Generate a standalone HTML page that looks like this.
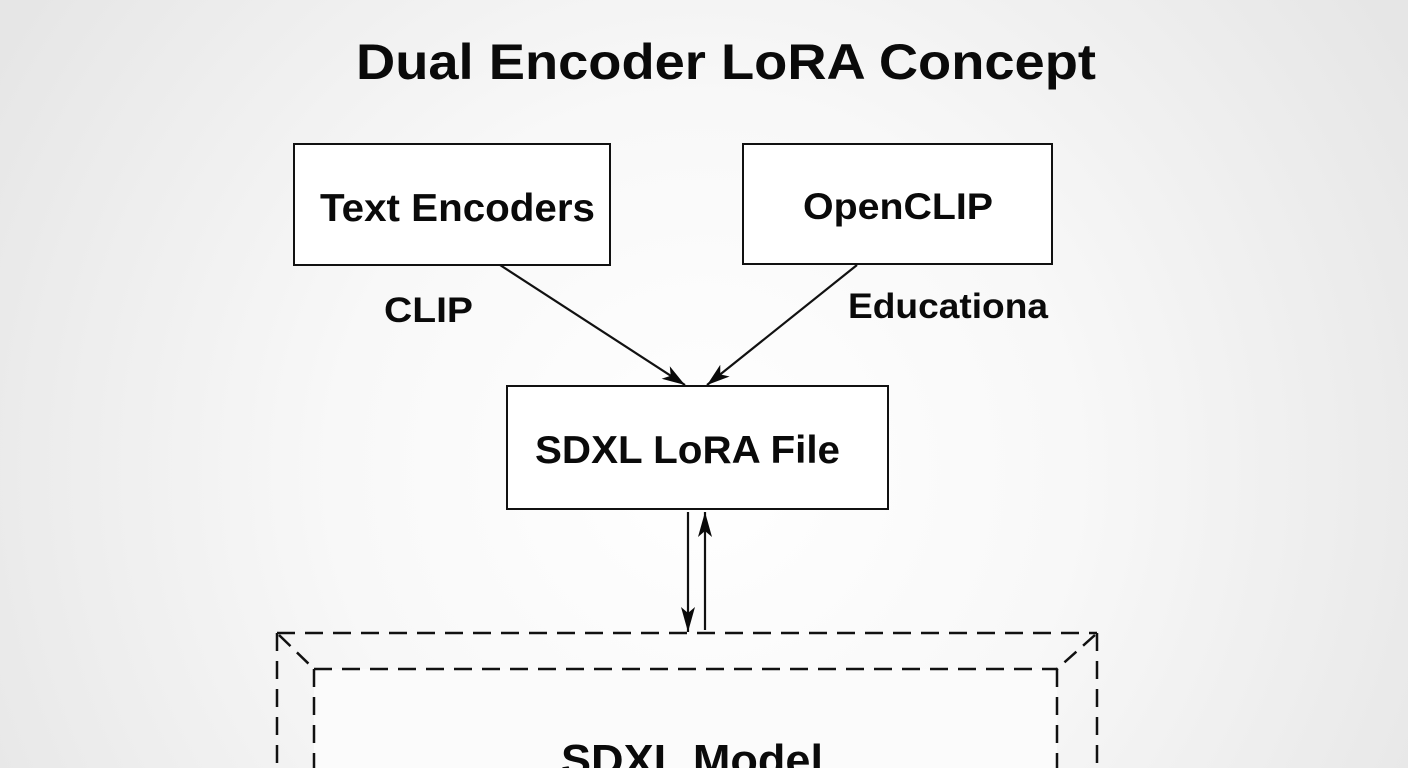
<!DOCTYPE html>
<html>
<head>
<meta charset="utf-8">
<style>
  html, body { margin: 0; padding: 0; }
  body { width: 1408px; height: 768px; overflow: hidden; background: #f3f3f3; }
  svg { display: block; }
  text { font-family: "Liberation Sans", Arial, sans-serif; font-weight: bold; fill: #0a0a0a; }
</style>
</head>
<body>
<svg width="1408" height="768" viewBox="0 0 1408 768" xmlns="http://www.w3.org/2000/svg">
  <defs>
    <radialGradient id="bg" cx="704" cy="470" r="820" gradientUnits="userSpaceOnUse">
      <stop offset="0" stop-color="#ffffff"/>
      <stop offset="0.45" stop-color="#f8f8f8"/>
      <stop offset="1" stop-color="#e6e6e6"/>
    </radialGradient>
    <marker id="ah" markerWidth="26" markerHeight="18" refX="23" refY="8" orient="auto" markerUnits="userSpaceOnUse">
      <path d="M23,8 L0,0.5 L6,8 L0,15.5 Z" fill="#0a0a0a"/>
    </marker>
    <marker id="ahv" markerWidth="28" markerHeight="18" refX="25" refY="8" orient="auto" markerUnits="userSpaceOnUse">
      <path d="M25,8 L0,1 L6,8 L0,15 Z" fill="#0a0a0a"/>
    </marker>
  </defs>

  <rect x="0" y="0" width="1408" height="768" fill="url(#bg)"/>

  <!-- Title -->
  <text x="356" y="79" font-size="50" textLength="740" lengthAdjust="spacingAndGlyphs">Dual Encoder LoRA Concept</text>

  <!-- Top boxes -->
  <rect x="294" y="144" width="316" height="121" fill="#ffffff" stroke="#111" stroke-width="2"/>
  <text x="320" y="221" font-size="38.5" textLength="275" lengthAdjust="spacingAndGlyphs">Text Encoders</text>

  <rect x="743" y="144" width="309" height="120" fill="#ffffff" stroke="#111" stroke-width="2"/>
  <text x="803" y="219" font-size="37" textLength="190" lengthAdjust="spacingAndGlyphs">OpenCLIP</text>

  <!-- Labels -->
  <text x="384" y="322" font-size="35" textLength="89" lengthAdjust="spacingAndGlyphs">CLIP</text>
  <text x="848" y="318" font-size="35" textLength="200" lengthAdjust="spacingAndGlyphs">Educationa</text>

  <!-- Diagonal arrows -->
  <line x1="500" y1="265" x2="685" y2="385" stroke="#111" stroke-width="2.2" marker-end="url(#ah)"/>
  <line x1="857" y1="265" x2="707" y2="385" stroke="#111" stroke-width="2.2" marker-end="url(#ah)"/>

  <!-- LoRA box -->
  <rect x="507" y="386" width="381" height="123" fill="#ffffff" stroke="#111" stroke-width="2"/>
  <text x="535" y="463" font-size="38.5" textLength="305" lengthAdjust="spacingAndGlyphs">SDXL LoRA File</text>

  <!-- Vertical arrows -->
  <line x1="688" y1="512" x2="688" y2="632" stroke="#111" stroke-width="2.2" marker-end="url(#ahv)"/>
  <line x1="705" y1="630" x2="705" y2="512" stroke="#111" stroke-width="2.2" marker-end="url(#ahv)"/>

  <!-- Dashed model container -->
  <rect x="314" y="669" width="743" height="110" fill="#fbfbfb" stroke="none"/>
  <g fill="none" stroke="#111" stroke-width="2.5" stroke-dasharray="18 10">
    <line x1="277" y1="633" x2="1097" y2="633"/>
    <line x1="277" y1="633" x2="277" y2="780"/>
    <line x1="1097" y1="633" x2="1097" y2="780"/>
    <line x1="314" y1="669" x2="1057" y2="669"/>
    <line x1="314" y1="669" x2="314" y2="780"/>
    <line x1="1057" y1="669" x2="1057" y2="780"/>
  </g>
  <g fill="none" stroke="#111" stroke-width="2.5" stroke-dasharray="16 9">
    <line x1="279" y1="635" x2="314" y2="669"/>
    <line x1="1095" y1="635" x2="1057" y2="669"/>
  </g>

  <text x="561" y="775" font-size="44" textLength="262" lengthAdjust="spacingAndGlyphs">SDXL Model</text>
</svg>
</body>
</html>
